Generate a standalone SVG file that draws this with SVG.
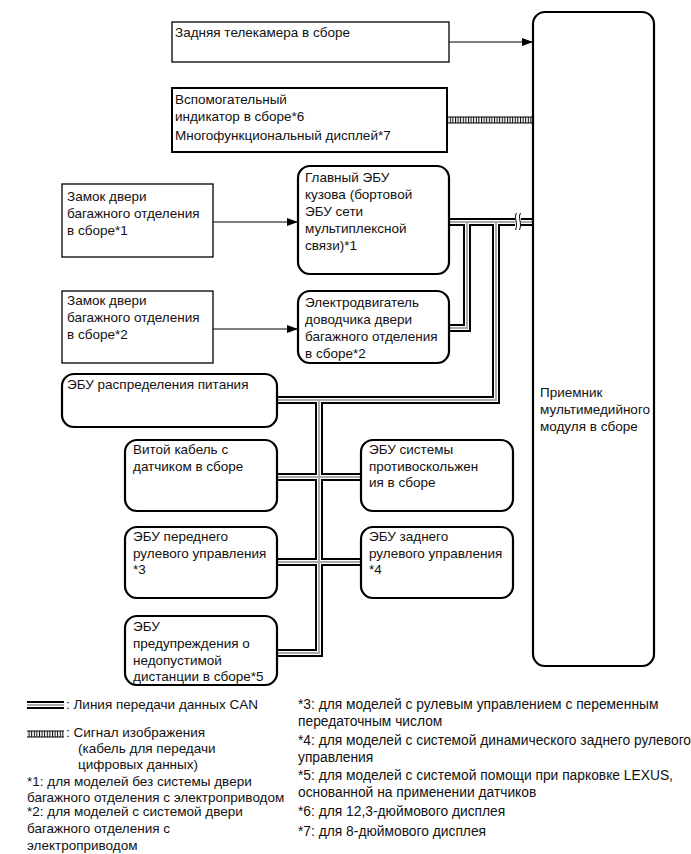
<svg xmlns="http://www.w3.org/2000/svg" width="691" height="854" viewBox="0 0 691 854">
<defs>
<marker id="arr" markerUnits="userSpaceOnUse" markerWidth="12" markerHeight="8" refX="11" refY="4" orient="auto">
<path d="M0,0 L11,4 L0,8 z" fill="#000"/>
</marker>
<pattern id="hatch" patternUnits="userSpaceOnUse" width="2.6" height="10">
<rect x="0" y="0" width="1" height="10" fill="#000"/>
</pattern>
<style>
text{font-family:"Liberation Sans",Arial,sans-serif;font-size:13.5px;fill:#111}
.rl text{font-size:13.8px}
.box{fill:#fff;stroke:#000;stroke-width:1.3}
.bbox{fill:#fff;stroke:#000;stroke-width:2}
.rbox{fill:#fff;stroke:#000;stroke-width:2.2}
.can1{fill:none;stroke:#000;stroke-width:8;stroke-linejoin:miter}
.can2{fill:none;stroke:#fff;stroke-width:4;stroke-linejoin:miter}
.can3{fill:none;stroke:#aaa;stroke-width:2;stroke-linejoin:miter}
.arrow{stroke:#000;stroke-width:1;fill:none;marker-end:url(#arr)}
</style>
</defs>
<rect width="691" height="854" fill="#fff"/>

<g id="connectors">
<g class="can1">
<path d="M449,222 H533"/>
<path d="M467,222 V328 H449"/>
<path d="M496,222 V400 H277"/>
<path d="M319,400 V653 H277"/>
<path d="M277,477 H361"/>
<path d="M277,562 H361"/>
</g>
<g class="can2">
<path d="M449,222 H533"/>
<path d="M467,222 V328 H449"/>
<path d="M496,222 V400 H277"/>
<path d="M319,400 V653 H277"/>
<path d="M277,477 H361"/>
<path d="M277,562 H361"/>
</g>
<g class="can3">
<path d="M449,222 H533"/>
<path d="M467,222 V328 H449"/>
<path d="M496,222 V400 H277"/>
<path d="M319,400 V653 H277"/>
<path d="M277,477 H361"/>
<path d="M277,562 H361"/>
</g>
<rect x="515" y="216" width="6" height="12" fill="#fff"/>
<path d="M516.5,213 c-3,5 2,10 -1,17" fill="none" stroke="#000" stroke-width="1"/>
<path d="M520.5,213 c-3,5 2,10 -1,17" fill="none" stroke="#000" stroke-width="1"/>
<rect x="447" y="117" width="86" height="6" fill="url(#hatch)"/>
<line x1="447" y1="117" x2="533" y2="117" stroke="#000" stroke-width="1"/>
<line x1="447" y1="123" x2="533" y2="123" stroke="#000" stroke-width="1"/>
<line class="arrow" x1="449" y1="42" x2="533" y2="42"/>
<line class="arrow" x1="213" y1="222" x2="298" y2="222"/>
<line class="arrow" x1="213" y1="329" x2="298" y2="329"/>
</g>

<g id="receiver">
<rect class="rbox" x="533" y="12" width="121" height="654" rx="12"/>
<text x="540" y="397">Приемник</text>
<text x="540" y="414">мультимедийного</text>
<text x="540" y="431">модуля в сборе</text>
</g>

<g id="camera">
<rect class="box" x="172" y="22" width="277" height="40"/>
<text x="175" y="37">Задняя телекамера в сборе</text>
</g>

<g id="display">
<rect class="bbox" x="172" y="88" width="275" height="64"/>
<text x="175" y="104">Вспомогательный</text>
<text x="175" y="121">индикатор в сборе*6</text>
<text x="175" y="140">Многофункциональный дисплей*7</text>
</g>

<g id="lock1">
<rect class="box" x="62" y="184" width="151" height="73"/>
<text x="67" y="201">Замок двери</text>
<text x="67" y="218">багажного отделения</text>
<text x="67" y="235">в сборе*1</text>
</g>

<g id="body-ecu">
<rect class="rbox" x="298" y="166" width="151" height="108" rx="12"/>
<text x="305" y="182">Главный ЭБУ</text>
<text x="305" y="199">кузова (бортовой</text>
<text x="305" y="216">ЭБУ сети</text>
<text x="305" y="233">мультиплексной</text>
<text x="305" y="250">связи)*1</text>
</g>

<g id="lock2">
<rect class="box" x="62" y="291" width="151" height="72"/>
<text x="67" y="305">Замок двери</text>
<text x="67" y="322">багажного отделения</text>
<text x="67" y="339">в сборе*2</text>
</g>

<g id="closer">
<rect class="rbox" x="298" y="291" width="151" height="72" rx="12"/>
<text x="305" y="307">Электродвигатель</text>
<text x="305" y="324">доводчика двери</text>
<text x="305" y="341">багажного отделения</text>
<text x="305" y="358">в сборе*2</text>
</g>

<g id="power-ecu">
<rect class="rbox" x="62" y="374" width="215" height="53" rx="12"/>
<text x="67" y="389">ЭБУ распределения питания</text>
</g>

<g id="spiral">
<rect class="rbox" x="125" y="440" width="152" height="71" rx="12"/>
<text x="133" y="454">Витой кабель с</text>
<text x="133" y="471">датчиком в сборе</text>
</g>

<g id="skid-ecu">
<rect class="rbox" x="361" y="440" width="152" height="71" rx="12"/>
<text x="369" y="454">ЭБУ системы</text>
<text x="369" y="471">противоскольжен</text>
<text x="369" y="487">ия в сборе</text>
</g>

<g id="front-steer">
<rect class="rbox" x="125" y="527" width="152" height="71" rx="12"/>
<text x="133" y="541">ЭБУ переднего</text>
<text x="133" y="558">рулевого управления</text>
<text x="133" y="574">*3</text>
</g>

<g id="rear-steer">
<rect class="rbox" x="361" y="527" width="152" height="71" rx="12"/>
<text x="369" y="541">ЭБУ заднего</text>
<text x="369" y="558">рулевого управления</text>
<text x="369" y="574">*4</text>
</g>

<g id="distance-ecu">
<rect class="rbox" x="125" y="616" width="152" height="69" rx="12"/>
<text x="133" y="631">ЭБУ</text>
<text x="133" y="648">предупреждения о</text>
<text x="133" y="665">недопустимой</text>
<text x="133" y="681">дистанции в сборе*5</text>
</g>

<g id="legend">
<path d="M27,705 H64" class="can1"/>
<path d="M27,705 H64" class="can2"/>
<path d="M27,705 H64" class="can3"/>
<text x="66" y="709">: Линия передачи данных CAN</text>
<rect x="27" y="731" width="37" height="6" fill="url(#hatch)"/>
<line x1="27" y1="731" x2="64" y2="731" stroke="#000" stroke-width="1"/>
<line x1="27" y1="737" x2="64" y2="737" stroke="#000" stroke-width="1"/>
<text x="66" y="737">: Сигнал изображения</text>
<text x="78" y="753">(кабель для передачи</text>
<text x="78" y="769">цифровых данных)</text>
<text x="27" y="786">*1: для моделей без системы двери</text>
<text x="27" y="802">багажного отделения с электроприводом</text>
<text x="27" y="816">*2: для моделей с системой двери</text>
<text x="27" y="833">багажного отделения с</text>
<text x="27" y="850">электроприводом</text>
<g class="rl">
<text x="298" y="709">*3: для моделей с рулевым управлением с переменным</text>
<text x="298" y="726">передаточным числом</text>
<text x="298" y="745">*4: для моделей с системой динамического заднего рулевого</text>
<text x="298" y="762">управления</text>
<text x="298" y="780">*5: для моделей с системой помощи при парковке LEXUS,</text>
<text x="298" y="797">основанной на применении датчиков</text>
<text x="298" y="816">*6: для 12,3-дюймового дисплея</text>
<text x="298" y="836">*7: для 8-дюймового дисплея</text>
</g>
</g>
</svg>
